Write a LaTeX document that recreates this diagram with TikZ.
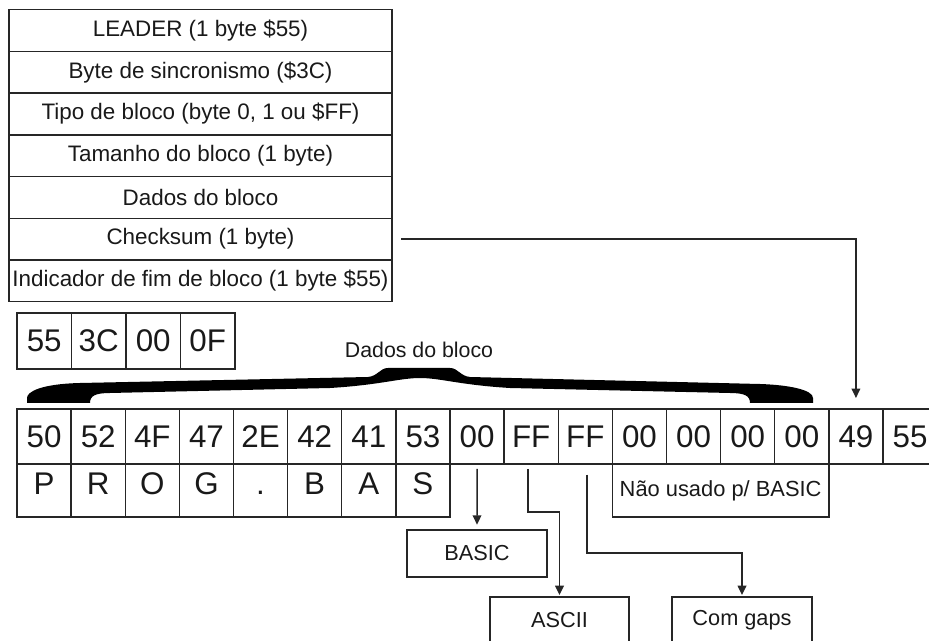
\documentclass[tikz,border=0pt]{standalone}
\usepackage{fontspec}
\setmainfont{Liberation Sans}
\usepackage{tikz}
\usetikzlibrary{arrows.meta, positioning}

\begin{document}
\begin{tikzpicture}[x=0.75pt, y=-0.75pt, line width=1.1pt,
  field/.style={draw=black!85, outer sep=0pt, minimum width=287.25pt, minimum height=31.3pt,
    inner sep=0pt, text=black!90, font=\fontsize{16.8}{19}\selectfont},
  cell/.style={draw=black!85, outer sep=0pt, minimum width=40.6pt, minimum height=41.25pt,
    inner sep=0pt, text=black!90, font=\fontsize{23.5}{27}\selectfont},
  letter/.style={cell, minimum height=39.75pt, text height=16.8pt, text depth=11.4pt},
  tag/.style={draw=black!85, outer sep=0pt, minimum width=105pt, minimum height=35.25pt,
    inner sep=0pt, text=black!90, font=\fontsize{16.3}{19}\selectfont},
  arr/.style={draw=black!85, -{Triangle[length=7pt, width=6.5pt]}}]
  \useasboundingbox (0,0) rectangle (929,641);
  \clip (0,0) rectangle (929,641);

  % estrutura do bloco
  \node[field] (f1) at (200.5, 30.5) {LEADER (1 byte \$55)};
  \node[field, below=0pt of f1] (f2) {Byte de sincronismo (\$3C)};
  \node[field, below=0pt of f2] (f3) {Tipo de bloco (byte 0, 1 ou \$FF)};
  \node[field, below=0pt of f3] (f4) {Tamanho do bloco (1 byte)};
  \node[field, below=0pt of f4] (f5) {Dados do bloco};
  \node[field, below=0pt of f5] (f6) {Checksum (1 byte)};
  \node[field, below=0pt of f6] (f7) {Indicador de fim de bloco (1 byte \$55)};

  % cabecalho
  \foreach \v [count=\i] in {55,3C,00,0F}
    \node[cell, minimum width=40.9pt, minimum height=42pt] (s\i) at ({17+54.5*(\i-0.5)}, 341) {\v};

  % bytes do bloco
  \foreach \v [count=\i] in {50,52,4F,47,2E,42,41,53,00,FF,FF,00,00,00,00,49,55}
    \node[cell] (c\i) at ({17+54.125*(\i-0.5)}, 436.5) {\v};
  \foreach \l [count=\i] in {P,R,O,G,.,B,A,S}
    \node[letter] (l\i) at ({17+54.125*(\i-0.5)}, 490.5) {\l};
  \node[cell, minimum width=162.4pt, minimum height=39.75pt, font=\fontsize{16.4}{19}\selectfont]
    (unused) at (720.6, 490.5) {Não usado p/ BASIC};

  % chave
  \node[text=black!90, font=\fontsize{16}{18}\selectfont] (dados) at (419, 349.5) {Dados do bloco};
  \fill[black] (27,403) -- (90,403) .. controls (90,396) and (95,393) .. (110,393)
    -- (330,388) .. controls (380,385) and (400,378) .. (420,378)
    .. controls (440,378) and (460,385) .. (510,388) -- (730,393)
    .. controls (745,393) and (750,396) .. (750,403) -- (813,403) -- (813,398)
    .. controls (813,390) and (790,385) .. (760,384) -- (470,377)
    .. controls (460,376) and (458,368) .. (450,368) -- (388,368)
    .. controls (380,368) and (378,376) .. (368,377) -- (80,383)
    .. controls (40,384) and (27,392) .. (27,398) -- cycle;

  % tipos
  \node[tag] (basic) at (477, 553.5) {BASIC};
  \node[tag, minimum width=104.25pt] (ascii) at (559.5, 620.5) {ASCII};
  \node[tag] (gaps) at (742, 620.5) {Com gaps};

  \draw[arr, shorten <=3.75pt, shorten >=4pt] (c9.south) -- (basic.north);
  \draw[arr, shorten <=3.75pt, shorten >=1.5pt] ([xshift=-2.3pt]c10.south) -- ++(0,48) -| (ascii.north);
  \draw[arr, shorten <=8pt, shorten >=1.5pt] ([xshift=1.3pt]c11.south) -- ++(0,89) -| (gaps.north);
  \draw[arr, shorten <=6.75pt, shorten >=8.25pt] (f6.east) -| (c16.north);
\end{tikzpicture}
\end{document}
